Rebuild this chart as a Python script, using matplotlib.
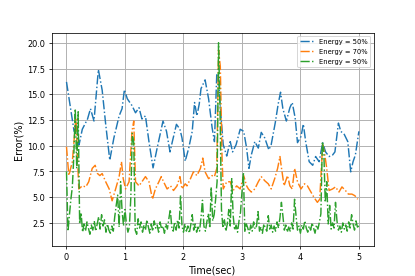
import numpy as np
import matplotlib
matplotlib.use("Agg")
import matplotlib.pyplot as plt

# -------------------------------
# DATA
# -------------------------------
t_50 = [0.0, 0.13, 0.175, 0.215, 0.27, 0.36, 0.41, 0.47, 0.545, 0.61, 0.67, 0.74, 0.81, 0.90,
        0.95, 0.99, 1.04, 1.12, 1.18, 1.24, 1.29, 1.35, 1.41, 1.48, 1.55, 1.65, 1.71, 1.77,
        1.81, 1.88, 1.94, 1.975, 2.03, 2.09, 2.15, 2.19, 2.23, 2.27, 2.30, 2.37, 2.43, 2.49,
        2.53, 2.57, 2.60, 2.63, 2.68, 2.74, 2.80, 2.84, 2.90, 2.97, 3.03, 3.08, 3.12, 3.16,
        3.22, 3.28, 3.33, 3.39, 3.46, 3.50, 3.57, 3.62, 3.66, 3.70, 3.76, 3.82, 3.86, 3.91,
        3.95, 4.01, 4.05, 4.09, 4.15, 4.21, 4.26, 4.32, 4.38, 4.43, 4.49, 4.55, 4.59, 4.65,
        4.69, 4.75, 4.81, 4.86, 4.90, 4.94, 5.0]
err_50 = [16.2, 11.4, 12.2, 10.1, 11.6, 12.6, 13.6, 12.4, 17.4, 15.4, 12.1, 8.6, 10.75, 12.9,
          13.6, 15.45, 14.56, 13.9, 13.2, 13.7, 12.6, 12.9, 10.4, 7.85, 9.77, 12.4, 11.4, 9.4,
          10.4, 12.08, 11.6, 10.76, 8.5, 9.77, 11.4, 14.2, 12.9, 14.06, 15.55, 16.4, 14.56, 11.75,
          10.4, 17.0, 16.8, 13.7, 10.1, 9.0, 10.4, 9.4, 10.1, 11.6, 11.4, 9.77, 7.8, 9.1,
          10.4, 9.77, 11.3, 10.76, 9.6, 10.1, 12.24, 14.06, 15.2, 13.6, 12.4, 13.7, 14.2, 12.7,
          10.3, 10.9, 12.1, 10.4, 8.45, 8.1, 8.95, 8.45, 10.3, 9.4, 8.95, 9.1, 9.4, 12.2,
          11.4, 11.1, 10.4, 7.46, 8.45, 9.1, 11.4]

t_70 = [0.0, 0.04, 0.10, 0.16, 0.21, 0.27, 0.33, 0.38, 0.44, 0.49, 0.53, 0.57, 0.61, 0.67,
        0.73, 0.78, 0.84, 0.90, 0.94, 0.97, 1.01, 1.07, 1.12, 1.15, 1.18, 1.24, 1.29, 1.35,
        1.41, 1.47, 1.52, 1.58, 1.62, 1.66, 1.72, 1.78, 1.83, 1.89, 1.94, 1.975, 2.03, 2.06,
        2.12, 2.17, 2.23, 2.29, 2.33, 2.37, 2.43, 2.49, 2.53, 2.57, 2.60, 2.63, 2.66, 2.68,
        2.74, 2.80, 2.85, 2.91, 2.97, 3.03, 3.08, 3.11, 3.16, 3.22, 3.28, 3.33, 3.39, 3.45,
        3.50, 3.56, 3.61, 3.65, 3.67, 3.72, 3.78, 3.82, 3.86, 3.90, 3.95, 4.01, 4.07, 4.12,
        4.18, 4.23, 4.29, 4.33, 4.38, 4.41, 4.45, 4.49, 4.55, 4.60, 4.66, 4.71, 4.77, 4.82,
        4.88, 4.93, 4.98]
err_70 = [9.9, 7.1, 8.45, 12.7, 5.8, 6.1, 6.0, 6.5, 7.8, 8.1, 7.3, 7.1, 7.3, 6.5,
          5.8, 4.65, 5.8, 7.0, 8.45, 6.8, 5.8, 6.5, 11.4, 12.4, 6.5, 6.1, 6.5, 7.0,
          6.5, 4.8, 5.8, 6.5, 7.0, 6.5, 5.8, 6.1, 5.65, 6.1, 7.0, 5.8, 6.3, 6.1,
          6.8, 7.46, 7.1, 7.8, 8.8, 7.46, 6.8, 7.1, 7.0, 7.8, 19.3, 17.7, 8.8, 5.8,
          6.5, 6.5, 5.65, 6.1, 5.8, 7.1, 6.1, 5.8, 5.5, 5.8, 6.5, 7.0, 6.6, 6.3,
          5.8, 6.8, 7.8, 8.95, 8.1, 6.1, 7.1, 6.1, 5.8, 7.8, 6.5, 5.8, 6.3, 6.1,
          5.5, 5.0, 4.5, 4.8, 10.1, 9.4, 7.8, 5.65, 5.8, 6.0, 5.5, 6.0, 5.65, 5.3,
          5.3, 5.15, 4.8]

# 90% series sampled every 0.025 s
t_90 = np.linspace(0, 5, 201)
err_90 = [7.5, 1.7, 3.2, 4.8, 6.0, 9.0, 13.6, 7.8, 13.3, 2.4,
          3.5, 1.6, 2.4, 1.7, 2.6, 2.0, 1.4, 2.3, 1.8, 2.7,
          1.7, 2.4, 3.1, 1.9, 3.3, 2.2, 2.8, 1.6, 2.4, 1.8,
          1.5, 2.2, 1.7, 3.1, 4.2, 5.2, 2.1, 6.5, 3.7, 2.2,
          3.8, 2.4, 1.6, 2.1, 5.0, 11.2, 10.3, 1.8, 1.4, 2.9,
          2.0, 2.6, 1.6, 2.3, 1.8, 2.8, 2.1, 1.5, 2.4, 1.7,
          2.7, 2.0, 2.3, 1.6, 2.6, 1.9, 2.2, 1.5, 2.4, 1.9,
          2.9, 3.8, 2.1, 1.7, 2.6, 1.8, 2.8, 2.0, 5.2, 2.2,
          1.6, 2.4, 1.7, 2.2, 1.5, 2.3, 3.3, 1.8, 2.4, 1.6,
          2.1, 1.7, 3.0, 4.7, 2.2, 1.7, 2.6, 3.4, 2.0, 6.0,
          2.7, 3.3, 4.8, 6.5, 20.0, 13.7, 3.8, 2.0, 2.8, 1.7,
          2.4, 3.8, 2.2, 6.8, 3.2, 1.8, 2.3, 1.6, 2.7, 3.5,
          5.5, 7.4, 1.6, 2.4, 2.0, 1.5, 2.3, 1.7, 2.6, 1.9,
          2.2, 3.6, 1.7, 2.1, 1.5, 2.4, 2.0, 1.7, 3.2, 1.9,
          2.3, 1.6, 2.2, 1.7, 2.6, 2.0, 3.0, 4.5, 3.2, 1.8,
          2.3, 1.6, 2.1, 1.7, 2.5, 1.9, 4.8, 3.2, 1.8, 2.2,
          1.5, 2.3, 1.9, 2.7, 2.0, 1.6, 2.2, 1.8, 2.5, 2.0,
          1.5, 2.3, 1.9, 2.6, 3.4, 10.4, 9.4, 4.5, 6.5, 2.4,
          4.2, 1.9, 2.5, 2.0, 4.5, 2.7, 1.8, 2.2, 1.6, 2.5,
          1.9, 2.3, 1.7, 2.6, 2.0, 3.3, 2.4, 1.8, 2.7, 2.1,
          2.2]

labels = ["Energy = 50%", "Energy = 70%", "Energy = 90%"]

# -------------------------------
# PLOT
# -------------------------------
fig, ax = plt.subplots(figsize=(6, 4), dpi=69.17)

ax.plot(t_50, err_50, "-.", color="#1f77b4", label=labels[0])
ax.plot(t_70, err_70, "-.", color="#ff7f0e", label=labels[1])
ax.plot(t_90, err_90, "-.", color="#2ca02c", label=labels[2])

ax.set_ylim(0.3, 21.0)
ax.set_yticks([2.5, 5.0, 7.5, 10.0, 12.5, 15.0, 17.5, 20.0])
ax.tick_params(labelsize=8.5)
ax.set_xlabel("Time(sec)", fontsize=10)
ax.set_ylabel("Error(%)", fontsize=10)
ax.grid(True, linewidth=1.0)
ax.legend(loc="upper right", fontsize=7, labelspacing=0.6)

fig.savefig("out.png", dpi=69.17)
